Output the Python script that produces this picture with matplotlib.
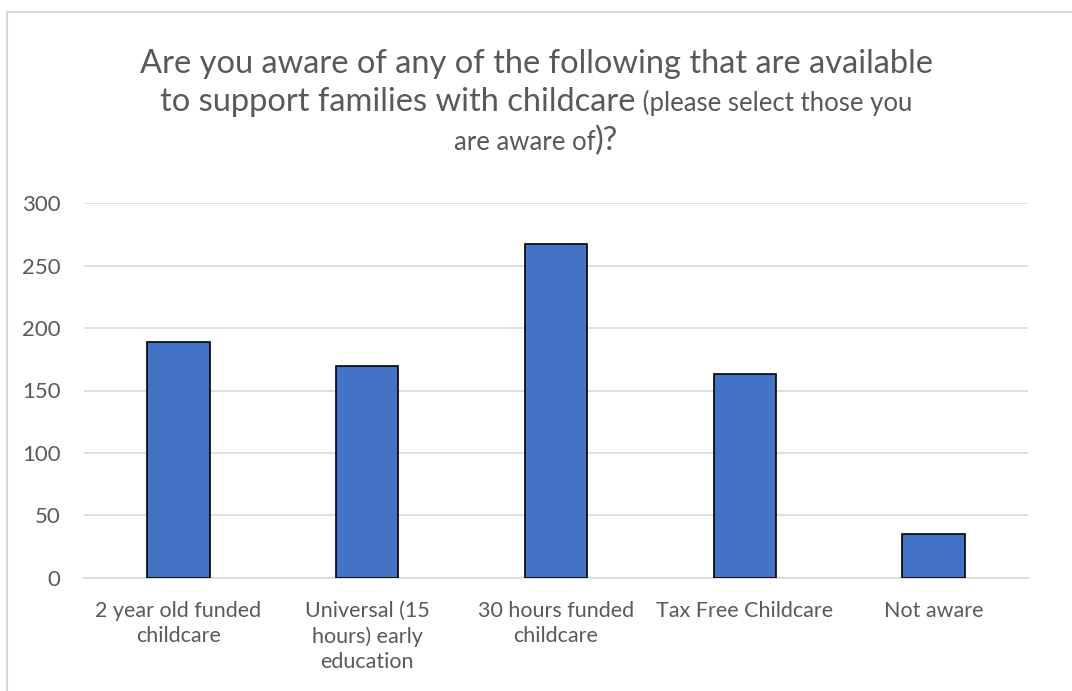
import matplotlib.pyplot as plt
from matplotlib.patches import Rectangle

categories = ["2 year old funded\nchildcare", "Universal (15\nhours) early\neducation",
              "30 hours funded\nchildcare", "Tax Free Childcare", "Not aware"]
values = [189, 170, 267, 163, 35]
yticks = [0, 50, 100, 150, 200, 250, 300]

W, H = 1072, 691
TXT = '#595959'
plt.rcParams['font.family'] = ['Lato', 'DejaVu Sans']

fig = plt.figure(figsize=(W / 100, H / 100), dpi=100)
fig.patch.set_facecolor('white')

# chart area border (cropped on right / bottom like the screenshot)
fig.add_artist(Rectangle((7 / W, -0.05), 1.1, 1 - 12 / H + 0.05, transform=fig.transFigure,
                         fill=False, edgecolor='#d9d9d9', linewidth=1.5))

ax = fig.add_axes([84 / W, 1 - 577.7 / H, (1028 - 84) / W, (577.7 - 203.3) / H])
x = range(len(values))
ax.bar(x, values, width=0.33, color='#4472C4', edgecolor='black', linewidth=1.2, zorder=3)
ax.set_xlim(-0.5, len(values) - 0.5)
ax.set_ylim(0, 300)
ax.set_yticks(yticks)
ax.yaxis.grid(True, color='#d9d9d9', linewidth=1.2, zorder=0)
for s in ['top', 'right', 'left']:
    ax.spines[s].set_visible(False)
ax.spines['bottom'].set_color('#d9d9d9')
ax.spines['bottom'].set_linewidth(1.2)
ax.tick_params(axis='both', length=0, colors=TXT)
ax.tick_params(axis='y', pad=17, labelsize=16)
ax.tick_params(axis='x', pad=17, labelsize=15.5)
ax.set_xticks(list(x))
ax.set_xticklabels(categories, linespacing=1.32)

# title with mixed font sizes
fig.canvas.draw()
r = fig.canvas.get_renderer()


def title_line(baseline_px, parts):
    objs = [fig.text(0, 1 - baseline_px / H, s, fontsize=sz, color=TXT, va='baseline')
            for s, sz in parts]
    widths = [o.get_window_extent(r).width for o in objs]
    xpos = (W - sum(widths)) / 2
    for o, w in zip(objs, widths):
        o.set_x(xpos / W)
        xpos += w


BIG, SMALL = 23.5, 18.5
title_line(73, [("Are you aware of any of the following that are available", BIG)])
title_line(111, [("to support families with childcare", BIG), (" (please select those you", SMALL)])
title_line(150, [("are aware of", SMALL), (")?", BIG)])

fig.savefig('out.png', dpi=100)
